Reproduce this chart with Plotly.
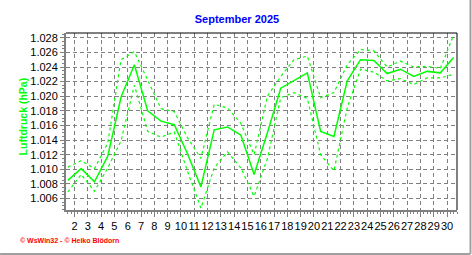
import plotly.graph_objects as go

days = list(range(1, 31))
p_max = [1010.3, 1011.2, 1010.1, 1013.6, 1025.0, 1026.1, 1022.2, 1018.3, 1017.9, 1014.3,
         1011.5, 1018.9, 1018.4, 1016.3, 1012.0, 1020.0, 1022.7, 1025.0, 1025.5, 1019.8,
         1020.5, 1024.3, 1026.4, 1026.2, 1024.0, 1024.8, 1024.0, 1024.1, 1023.8, 1028.4]
p_mean = [1008.5, 1010.1, 1008.3, 1011.8, 1019.9, 1024.3, 1018.0, 1016.6, 1016.1, 1012.1,
          1007.6, 1015.4, 1015.8, 1014.7, 1009.3, 1015.0, 1021.1, 1022.1, 1023.2, 1015.2,
          1014.5, 1022.1, 1025.0, 1024.9, 1023.1, 1023.7, 1022.7, 1023.4, 1023.2, 1025.3]
p_min = [1006.9, 1009.3, 1007.0, 1010.2, 1013.9, 1021.5, 1015.2, 1014.4, 1015.1, 1009.7,
         1004.7, 1010.2, 1012.4, 1010.2, 1006.3, 1011.5, 1019.8, 1020.5, 1019.7, 1012.0,
         1009.8, 1018.4, 1023.7, 1023.3, 1022.1, 1022.4, 1021.6, 1022.5, 1022.5, 1023.0]
x_ticks = list(range(2, 31))
x_tick_labels = [str(d) for d in x_ticks]
y_ticks = list(range(1006, 1029, 2))
y_tick_labels = ["1.%03d" % (v - 1000) for v in y_ticks]

x = [d + 0.5 for d in days]
green = "#00FF00"

fig = go.Figure()
fig.add_trace(go.Scatter(x=x, y=p_max, mode="lines",
                         line=dict(color=green, width=1.2, dash="dot")))
fig.add_trace(go.Scatter(x=x, y=p_min, mode="lines",
                         line=dict(color=green, width=1.2, dash="dot")))
fig.add_trace(go.Scatter(x=x, y=p_mean, mode="lines",
                         line=dict(color=green, width=1.5)))

font = "Liberation Sans, Arial, sans-serif"
PW, PH, L, B = 391.5, 176.4, 66, 209.7
fig.update_layout(
    width=472, height=255,
    margin=dict(l=66, r=14.5, t=33.3, b=45.3),
    paper_bgcolor="white", plot_bgcolor="white",
    showlegend=False,
    font=dict(family=font, size=11, color="black"),
    title=dict(text="<b>September 2025</b>", x=0.502, xanchor="center",
               y=1 - 19.5 / 255, yanchor="middle",
               font=dict(family=font, size=11, color="#0000FF")),
    xaxis=dict(range=[1.36, 30.75], tickmode="array", tickvals=x_ticks,
               ticktext=x_tick_labels, tickangle=0, ticks="outside", ticklen=5,
               tickwidth=1, tickcolor="#808080",
               showline=True, linecolor="#808080", linewidth=2,
               showgrid=True, gridcolor="#808080", gridwidth=1, griddash="4px,3px",
               zeroline=False,
               minor=dict(dtick=0.25, tick0=0, ticks="outside", ticklen=2,
                          tickcolor="#808080", showgrid=False),
               tickfont=dict(size=11, family=font)),
    yaxis=dict(range=[1004.44, 1028.65], tickmode="array", tickvals=y_ticks,
               ticktext=y_tick_labels, ticks="outside", ticklen=4, tickwidth=1,
               tickcolor="#808080",
               showline=True, linecolor="#808080", linewidth=2,
               showgrid=True, gridcolor="#808080", gridwidth=1, griddash="4px,3px",
               zeroline=False,
               minor=dict(dtick=0.5, tick0=0, ticks="outside", ticklen=2,
                          tickcolor="#808080", showgrid=False),
               tickfont=dict(size=11, family=font)),
    shapes=[
        dict(type="line", xref="paper", yref="paper", x0=0, x1=1, y0=1, y1=1,
             line=dict(color="black", width=1)),
        dict(type="line", xref="paper", yref="paper", x0=1, x1=1, y0=0, y1=1,
             line=dict(color="black", width=1)),
    ],
    annotations=[
        dict(text="<b>© WsWin32 - © Heiko Blödorn</b>", xref="paper", yref="paper",
             x=(18 - L) / PW, y=-(240.5 - B) / PH, xanchor="left", yanchor="middle",
             showarrow=False, font=dict(family=font, size=7, color="#FF0000")),
        dict(text="<b>Luftdruck (hPa)</b>", xref="paper", yref="paper",
             x=(22.7 - L) / PW, y=(B - 116.7) / PH, xanchor="center", yanchor="middle",
             textangle=-90, showarrow=False,
             font=dict(family=font, size=10.5, color=green)),
    ],
)
# outer frame lines at right and bottom of the picture
fig.add_shape(type="line", xref="paper", yref="paper",
              x0=-L / PW, x1=(471 - L) / PW, y0=-(253.5 - B) / PH,
              y1=-(253.5 - B) / PH, line=dict(color="#A0A0A0", width=2))
fig.add_shape(type="line", xref="paper", yref="paper",
              x0=(471 - L) / PW, x1=(471 - L) / PW,
              y0=-(253.5 - B) / PH, y1=B / PH,
              line=dict(color="#A0A0A0", width=2))
fig.write_html("out.html")
